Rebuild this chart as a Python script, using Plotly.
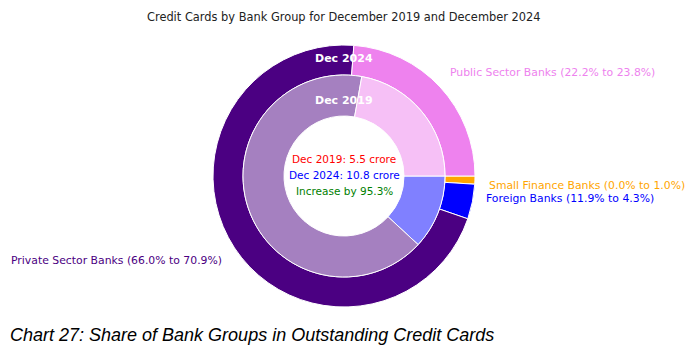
import plotly.graph_objects as go

W, H = 700, 364
OX, OY = 8, 8  # browser default body margin

# Data (ordered clockwise starting at 3 o'clock)
categories = ["Small Finance Banks", "Foreign Banks", "Private Sector Banks", "Public Sector Banks"]
share_2019 = [0.0, 11.9, 66.0, 22.2]
share_2024 = [1.0, 4.3, 70.9, 23.8]
total_2019 = 5.5   # crore
total_2024 = 10.8  # crore
increase_pct = 95.3

outer_colors = ["#FFA500", "#0000FF", "#4B0082", "#EE82EE"]
inner_colors = ["#FFD280", "#8080FF", "#A580C0", "#F6C0F6"]
label_colors = {"Public Sector Banks": "#EE82EE", "Small Finance Banks": "#FFA500",
                "Foreign Banks": "#0000FF", "Private Sector Banks": "#4B0082"}

cx, cy = 344, 176
R_out, R_mid, R_in = 131, 101, 60


def px_x(x):
    return (x - OX) / W


def px_y(y):
    return 1 - (y - OY) / H


def domain(r):
    return dict(x=[px_x(cx - r), px_x(cx + r)], y=[px_y(cy + r), px_y(cy - r)])


fig = go.Figure()
fig.add_trace(go.Pie(
    labels=categories, values=share_2024, sort=False, direction="clockwise", rotation=90,
    hole=R_mid / R_out, domain=domain(R_out), textinfo="none", hoverinfo="label+percent",
    marker=dict(colors=outer_colors, line=dict(color="white", width=1)), showlegend=False,
))
fig.add_trace(go.Pie(
    labels=categories, values=share_2019, sort=False, direction="clockwise", rotation=90,
    hole=R_in / R_mid, domain=domain(R_mid), textinfo="none", hoverinfo="label+percent",
    marker=dict(colors=inner_colors, line=dict(color="white", width=1)), showlegend=False,
))

ann = []


def add_text(x, y, text, color, size, xanchor="center", bold=False, family="DejaVu Sans", italic=False):
    t = f"<b>{text}</b>" if bold else text
    if italic:
        t = f"<i>{t}</i>"
    ann.append(dict(x=px_x(x), y=px_y(y), xref="paper", yref="paper", text=t, showarrow=False,
                    xanchor=xanchor, yanchor="middle", font=dict(color=color, size=size, family=family)))


add_text(344, 59, "Dec 2024", "white", 11, bold=True)
add_text(344, 100, "Dec 2019", "white", 11, bold=True)
add_text(344, 159, f"Dec 2019: {total_2019} crore", "#FF0000", 10.5)
add_text(344, 175, f"Dec 2024: {total_2024} crore", "#0000FF", 10.5)
add_text(344, 191, f"Increase by {increase_pct}%", "#008000", 10.5)

label_pos = {
    "Public Sector Banks": (448, 72),
    "Small Finance Banks": (487, 185),
    "Foreign Banks": (484, 198),
    "Private Sector Banks": (9, 260),
}
for c, a, b in zip(categories, share_2019, share_2024):
    x, y = label_pos[c]
    add_text(x, y, f"{c} ({a:.1f}% to {b:.1f}%)", label_colors[c], 10.85, xanchor="left")

add_text(344, 17, "Credit Cards by Bank Group for December 2019 and December 2024", "#222222", 11.4)
add_text(8, 335, "Chart 27: Share of Bank Groups in Outstanding Credit Cards", "#000000", 18.0,
         xanchor="left", family="Liberation Sans", italic=True)

fig.update_layout(width=W, height=H, margin=dict(l=0, r=0, t=0, b=0),
                  paper_bgcolor="white", plot_bgcolor="white", annotations=ann)
fig.write_html("out.html")
